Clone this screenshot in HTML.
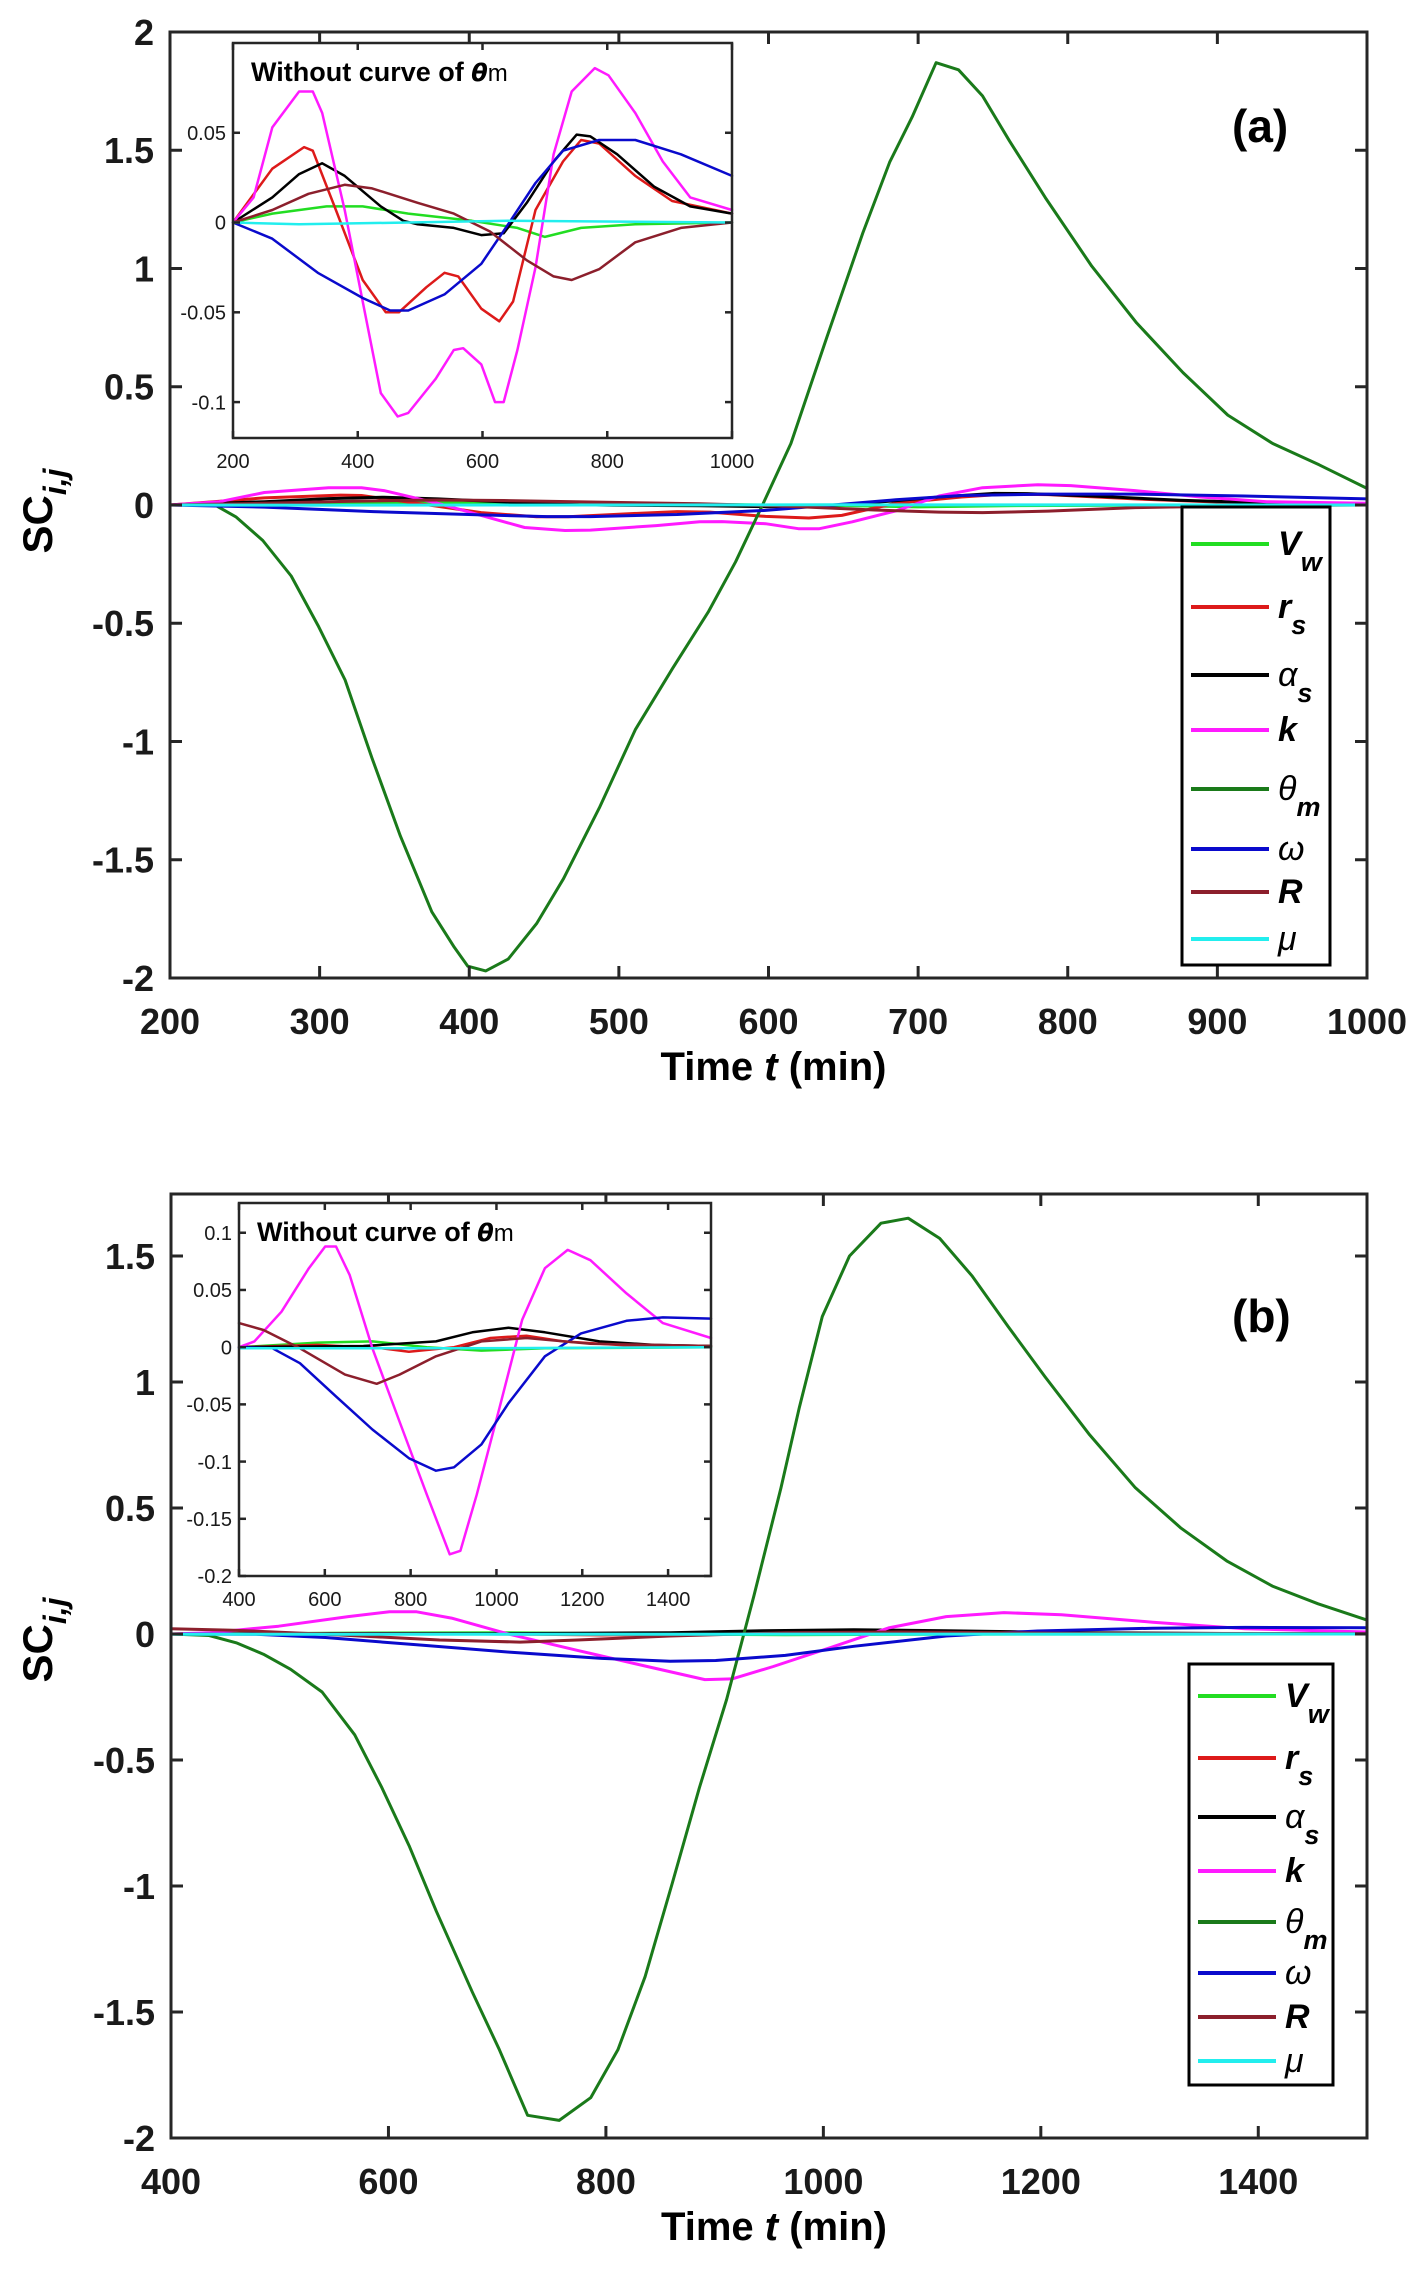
<!DOCTYPE html>
<html><head><meta charset="utf-8"><title>Sensitivity coefficients</title>
<style>
html,body{margin:0;padding:0;background:#fff;}
svg{display:block;font-family:"Liberation Sans Narrow","Liberation Sans",sans-serif;}
</style></head>
<body>
<svg id="fig" width="1424" height="2273" viewBox="0 0 1424 2273" xmlns="http://www.w3.org/2000/svg"></svg>
<script>
// ---------- Panel (a) data ----------
const aThT=[200,230,244,262,281,299,317,335,354,375,390,399,411,426,445,463,487,511,536,560,578,596,615,639,663,681,696,712,727,743,761,785,816,846,877,907,937,968,1000];
const aThV=[0,0,-0.05,-0.15,-0.3,-0.51,-0.74,-1.07,-1.40,-1.72,-1.87,-1.95,-1.97,-1.92,-1.77,-1.58,-1.28,-0.95,-0.69,-0.45,-0.24,0,0.26,0.71,1.15,1.45,1.64,1.87,1.84,1.73,1.54,1.30,1.01,0.77,0.56,0.38,0.26,0.17,0.07];
const aKT=[200,233,263,306,328,343,379,408,437,464,481,525,554,569,598,620,634,656,685,714,743,780,802,845,889,933,1000];
const aKV=[0,0.014,0.053,0.073,0.073,0.061,0.007,-0.044,-0.095,-0.108,-0.106,-0.087,-0.071,-0.070,-0.079,-0.100,-0.100,-0.071,-0.025,0.038,0.073,0.086,0.082,0.061,0.034,0.014,0.007];
const aRsT=[200,263,314,328,365,408,445,466,510,539,561,598,627,649,685,729,758,787,845,904,1000];
const aRsV=[0,0.030,0.042,0.040,0.007,-0.032,-0.050,-0.050,-0.036,-0.028,-0.030,-0.048,-0.055,-0.044,0.007,0.034,0.046,0.044,0.026,0.012,0.005];
const aAsT=[200,263,306,343,379,437,473,496,554,598,634,671,714,751,773,816,875,933,1000];
const aAsV=[0,0.014,0.027,0.033,0.026,0.009,0.001,-0.001,-0.003,-0.007,-0.006,0.011,0.034,0.049,0.048,0.038,0.020,0.009,0.005];
const aWT=[200,263,336,408,452,481,539,598,641,685,729,787,845,918,1000];
const aWV=[0,-0.009,-0.028,-0.042,-0.049,-0.049,-0.040,-0.023,-0.001,0.022,0.040,0.046,0.046,0.038,0.026];
const aRT=[200,263,321,379,423,496,554,612,671,714,743,787,845,918,1000];
const aRV=[0,0.007,0.016,0.021,0.019,0.011,0.005,-0.005,-0.021,-0.030,-0.032,-0.026,-0.011,-0.003,0];
const aVwT=[200,263,350,408,481,583,656,700,758,845,1000];
const aVwV=[0,0.005,0.009,0.009,0.005,0.001,-0.003,-0.008,-0.003,-0.001,0];
const aMuT=[200,306,481,641,1000];
const aMuV=[0,-0.001,0,0.001,0];
const aXTicks=[200,300,400,500,600,700,800,900,1000];
const aYTicks=[-2,-1.5,-1,-0.5,0,0.5,1,1.5,2];
const aInXTicks=[200,400,600,800,1000];
const aInYTicks=[-0.1,-0.05,0,0.05];

// ---------- Panel (b) data ----------
const bThT=[400,435,460,485,510,539,569,594,619,644,677,702,728,757,786,811,836,861,886,911,936,961,978,999,1024,1053,1078,1107,1137,1170,1204,1245,1287,1329,1371,1413,1455,1500];
const bThV=[0,-0.006,-0.035,-0.08,-0.14,-0.23,-0.40,-0.61,-0.84,-1.10,-1.42,-1.65,-1.91,-1.93,-1.84,-1.65,-1.36,-0.99,-0.61,-0.26,0.15,0.58,0.90,1.26,1.50,1.63,1.65,1.57,1.42,1.22,1.02,0.79,0.58,0.42,0.29,0.19,0.12,0.055];
const bKT=[400,436,499,563,601,626,658,711,774,838,891,916,954,1007,1060,1113,1166,1219,1303,1388,1500];
const bKV=[0,0.005,0.031,0.069,0.088,0.088,0.063,-0.001,-0.065,-0.129,-0.181,-0.178,-0.129,-0.053,0.024,0.069,0.085,0.076,0.047,0.021,0.008];
const bWT=[400,478,542,626,711,796,859,901,965,1028,1113,1197,1303,1388,1500];
const bWV=[0,-0.001,-0.014,-0.043,-0.072,-0.097,-0.108,-0.105,-0.085,-0.049,-0.008,0.012,0.023,0.026,0.025];
const bRT=[400,457,542,647,721,774,859,965,1070,1219,1500];
const bRV=[0.021,0.015,-0.001,-0.024,-0.032,-0.024,-0.008,0.005,0.008,0.003,0.001];
const bRsT=[400,584,732,796,901,986,1070,1155,1324,1500];
const bRsV=[0,0.002,-0.001,-0.004,0,0.008,0.010,0.005,0.001,0.001];
const bAsT=[400,690,859,944,1028,1113,1240,1367,1500];
const bAsV=[0,0.001,0.005,0.013,0.017,0.013,0.005,0.002,0.001];
const bVwT=[400,584,711,838,965,1113,1500];
const bVwV=[0,0.004,0.005,0,-0.003,-0.001,0];
const bMuT=[400,901,1500];
const bMuV=[-0.001,-0.001,0];
const bXTicks=[400,600,800,1000,1200,1400];
const bYTicks=[-2,-1.5,-1,-0.5,0,0.5,1,1.5];
const bInXTicks=[400,600,800,1000,1200,1400];
const bInYTicks=[-0.2,-0.15,-0.1,-0.05,0,0.05,0.1];

const NS='http://www.w3.org/2000/svg';
const svg=document.getElementById('fig');
const COL={vw:'#22dd22',rs:'#dd1a1a',as:'#000000',k:'#ff1aff',th:'#1a7a1a',w:'#0a0acc',R:'#8c1f2c',mu:'#22eeee'};

function mk(tag,attrs,parent){const e=document.createElementNS(NS,tag);for(const k in attrs)e.setAttribute(k,attrs[k]);(parent||svg).appendChild(e);return e;}
function lab(v){return v===0?'0':String(v);}

function scales(box,xl,yl){
  return {x:t=>box.x0+(t-xl[0])/(xl[1]-xl[0])*(box.x1-box.x0),
          y:v=>box.y1-(v-yl[0])/(yl[1]-yl[0])*(box.y1-box.y0)};
}
function line(g,s,T,V,color,w,name){
  let d='';for(let i=0;i<T.length;i++)d+=(i?'L':'M')+s.x(T[i]).toFixed(1)+','+s.y(V[i]).toFixed(1);
  const p=mk('path',{d:d,fill:'none',stroke:color,'stroke-width':w,'stroke-linejoin':'round','stroke-linecap':'round'},g);
  
  
}
function axes(g,box,s,xt,yt,opt){
  const fr=mk('rect',{x:box.x0,y:box.y0,width:box.x1-box.x0,height:box.y1-box.y0,fill:'none',stroke:'#262626','stroke-width':opt.sw},g);
  
  
  xt.forEach(t=>{const x=s.x(t);
    mk('line',{x1:x,y1:box.y1,x2:x,y2:box.y1-opt.tl,stroke:'#262626','stroke-width':opt.sw},g);
    mk('line',{x1:x,y1:box.y0,x2:x,y2:box.y0+opt.tl,stroke:'#262626','stroke-width':opt.sw},g);
    const tx=mk('text',{x:x,y:box.y1+opt.xoff,'text-anchor':'middle','font-size':opt.fs,'font-weight':opt.fw,fill:'#1a1a1a'},g);
    tx.textContent=lab(t);
    
    
  });
  yt.forEach(v=>{const y=s.y(v);
    mk('line',{x1:box.x0,y1:y,x2:box.x0+opt.tl,y2:y,stroke:'#262626','stroke-width':opt.sw},g);
    mk('line',{x1:box.x1,y1:y,x2:box.x1-opt.tl,y2:y,stroke:'#262626','stroke-width':opt.sw},g);
    const tx=mk('text',{x:box.x0-opt.yoff,y:y+opt.fs*0.36,'text-anchor':'end','font-size':opt.fs,'font-weight':opt.fw,fill:'#1a1a1a'},g);
    tx.textContent=lab(v);
    
    
  });
}
function legend(g,lx0,ly0,lx1,ly1,rows){
  const r=mk('rect',{x:lx0,y:ly0,width:lx1-lx0,height:ly1-ly0,fill:'#fff',stroke:'#000','stroke-width':3},g);
  
  
  rows.forEach(([c,main,sub,ital,y,nm])=>{
    const l=mk('line',{x1:lx0+9,y1:y,x2:lx0+87,y2:y,stroke:c,'stroke-width':4},g);
    
    
    const t=mk('text',{x:lx0+96,y:y+11,'font-size':34,'font-weight':ital==='b'?'bold':'normal','font-style':'italic','font-family':'"Liberation Sans",sans-serif'},g);
    
    
    const a=mk('tspan',{},t);a.textContent=main;
    if(sub){const b=mk('tspan',{dy:16,'font-size':27,'font-weight':'bold'},t);b.textContent=sub;}
  });
}

function panel(P){
  const g=mk('g',{});
  
  
  const s=scales(P.box,P.xl,P.yl);
  const small=P.series;
  small.forEach(sr=>{ if(sr[0]==='th') line(g,s,sr[1],sr[2],COL.th,3,'theta-m-curve'); else line(g,s,sr[1],sr[2],COL[sr[0]],3,sr[0]+'-curve'); });
  axes(g,P.box,s,P.xt,P.yt,{pre:'',sw:3,tl:12,fs:36,fw:'bold',xoff:56,yoff:16});
  const gi=mk('g',{},g);
  
  
  const si=scales(P.ib,P.xl,P.iyl);
  mk('rect',{x:P.ib.x0,y:P.ib.y0,width:P.ib.x1-P.ib.x0,height:P.ib.y1-P.ib.y0,fill:'#fff'},gi);
  small.forEach(sr=>{ if(sr[0]!=='th') line(gi,si,sr[1],sr[2],COL[sr[0]],2.5,'inset-'+sr[0]+'-curve'); });
  axes(gi,P.ib,si,P.ixt,P.iyt,{pre:'inset-',sw:2.5,tl:7,fs:20,fw:'normal',xoff:30,yoff:7});
  const tt=mk('text',{x:P.ib.x0+18,y:P.ib.y0+38,'font-size':27,'font-weight':'bold'},gi);
  
  
  const t1=mk('tspan',{},tt);t1.textContent='Without curve of ';
  const t2=mk('tspan',{'font-style':'italic','font-family':'"DejaVu Sans",sans-serif','font-size':24},tt);t2.textContent='θ';
  const t3=mk('tspan',{'font-weight':'normal','font-size':24},tt);t3.textContent='m';
  const pl=mk('text',{x:P.plab[0],y:P.plab[1],'font-size':46,'font-weight':'bold'},g);
  pl.textContent=P.plabText;
  
  
  const xl=mk('text',{x:(P.box.x0+P.box.x1)/2+5,y:P.box.y1+102,'text-anchor':'middle','font-size':40,'font-weight':'bold'},g);
  
  
  const x1=mk('tspan',{},xl);x1.textContent='Time ';
  const x2=mk('tspan',{'font-style':'italic'},xl);x2.textContent='t';
  const x3=mk('tspan',{},xl);x3.textContent=' (min)';
  const yt=mk('text',{x:0,y:0,'text-anchor':'middle','font-size':42,'font-weight':'bold',transform:'translate(52,'+(s.y(0)+6)+') rotate(-90)'},g);
  
  
  const y1=mk('tspan',{},yt);y1.textContent='SC';
  const y2=mk('tspan',{dy:14,'font-size':32,'font-style':'italic'},yt);y2.textContent='i,j';
  legend(g,P.lg[0],P.lg[1],P.lg[2],P.lg[3],[
    [COL.vw,'V','w','b',P.ly[0],'vw'],[COL.rs,'r','s','b',P.ly[1],'rs'],[COL.as,'α','s','n',P.ly[2],'alpha-s'],
    [COL.k,'k','','b',P.ly[3],'k'],[COL.th,'θ','m','n',P.ly[4],'theta-m'],[COL.w,'ω','','n',P.ly[5],'omega'],
    [COL.R,'R','','b',P.ly[6],'R'],[COL.mu,'μ','','n',P.ly[7],'mu']]);
}

panel({name:'panel-a',box:{x0:170,x1:1367,y0:32,y1:978},xl:[200,1000],yl:[-2,2],xt:aXTicks,yt:aYTicks,
  ib:{x0:233,x1:732,y0:43,y1:438},iyl:[-0.12,0.1],ixt:aInXTicks,iyt:aInYTicks,
  series:[['vw',aVwT,aVwV],['rs',aRsT,aRsV],['as',aAsT,aAsV],['k',aKT,aKV],['th',aThT,aThV],['w',aWT,aWV],['R',aRT,aRV],['mu',aMuT,aMuV]],
  plab:[1232,142],plabText:'(a)',lg:[1182,507,1330,965],ly:[544,607,675,730,789,849,892,939]});
panel({name:'panel-b',box:{x0:171,x1:1367,y0:1194,y1:2138},xl:[400,1500],yl:[-2,1.746],xt:bXTicks,yt:bYTicks,
  ib:{x0:239,x1:711,y0:1203,y1:1576},iyl:[-0.2,0.126],ixt:bInXTicks,iyt:bInYTicks,
  series:[['vw',bVwT,bVwV],['rs',bRsT,bRsV],['as',bAsT,bAsV],['k',bKT,bKV],['th',bThT,bThV],['w',bWT,bWV],['R',bRT,bRV],['mu',bMuT,bMuV]],
  plab:[1232,1332],plabText:'(b)',lg:[1189,1664,1333,2085],ly:[1696,1758,1817,1871,1922,1973,2017,2061]});
</script>
</body></html>
